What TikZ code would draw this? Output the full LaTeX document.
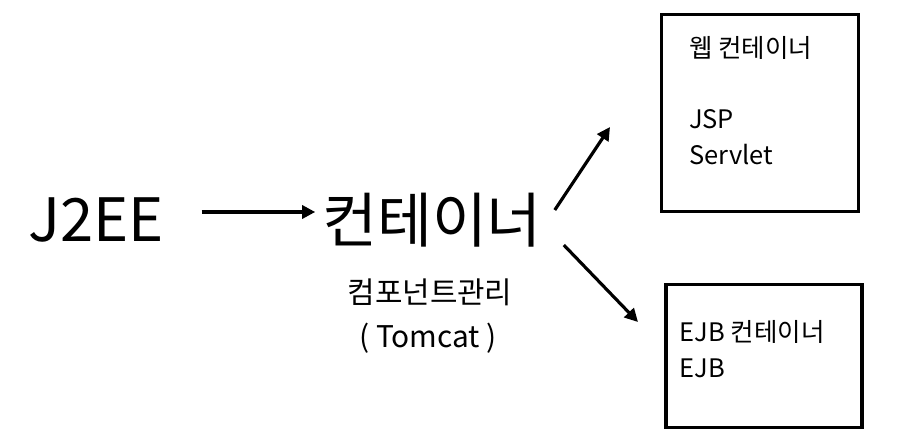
\documentclass[tikz,border=0pt]{standalone}
\usepackage{fontspec}
\setmainfont{Noto Sans CJK KR}
\usetikzlibrary{positioning,arrows.meta}

\begin{document}
\begin{tikzpicture}[x=0.02cm,y=-0.02cm]

	\tikzset{
	  big/.style={font=\fontsize{34}{40}\selectfont, inner sep=2pt},
	  hand/.style={font=\fontsize{17}{20}\selectfont, inner sep=1pt},
	  box/.style={draw, line width=2pt, inner sep=0pt},
	  boxtext/.style={font=\fontsize{14.5}{20.4}\selectfont, align=left, inner sep=0pt, anchor=north west},
	  arr/.style={line width=1.8pt, -{Triangle[length=7.5pt,width=7.5pt]}},
	}
	\useasboundingbox (0,0) rectangle (900,439);
	% left side
	\node[big] (j2ee) at (96,220) {J2EE};
	\node[big] (cont) at (432,220) {컨테이너};
	\node[hand] (mng) at (430,292) {컴포넌트관리};
	\node[hand] (tom) at (428,338) {( Tomcat )};
	% the two containers
	\node[box, minimum width=3.94cm, minimum height=3.94cm] (web) at (760,113) {};
	\node[box, minimum width=3.92cm, minimum height=2.86cm] (ejb) at (764,356) {};
	\node[boxtext] (webtxt) at ([shift={(29,23)}]web.north west) {웹 컨테이너\\[20pt]JSP\\Servlet};
	\node[boxtext] (ejbtxt) at ([shift={(15,37)}]ejb.north west) {EJB 컨테이너\\EJB};
	\coordinate (webtip) at (610,127);
	\coordinate (ejbtip) at (638,322);
	% arrows
	\draw[arr] ([shift={(34,-8)}]j2ee.east) -- ([shift={(-3,-8)}]cont.west);
	\draw[arr] ([shift={(9,-10)}]cont.east) -- (webtip);
	\draw[arr] ([shift={(18,25)}]cont.east) -- (ejbtip);

\end{tikzpicture}
\end{document}
